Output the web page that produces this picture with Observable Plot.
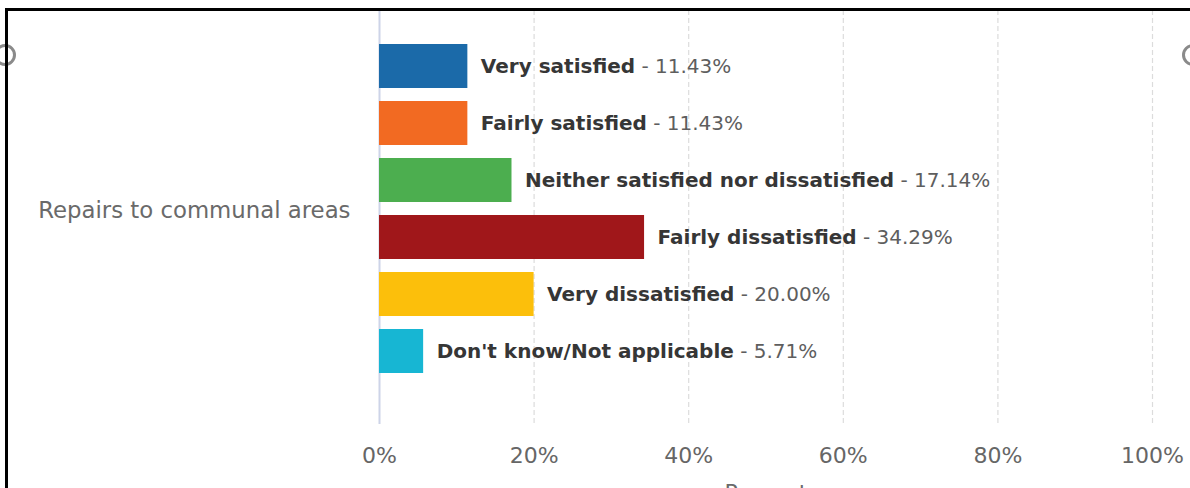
<!DOCTYPE html>
<html>
<head>
<meta charset="utf-8">
<script src="https://cdn.jsdelivr.net/npm/d3@7"></script>
<script src="https://cdn.jsdelivr.net/npm/@observablehq/plot@0.6"></script>
<style>
  html, body { margin: 0; padding: 0; background: #fff; }
  #wrap { position: relative; width: 1190px; height: 488px; overflow: hidden; background: #fff; }
  #chart { position: absolute; left: 0; top: 0; }
  .ring { position: absolute; width: 16px; height: 16px; border: 3px solid #8a8a8a; border-radius: 50%; }
  .frameTop { position: absolute; left: 5px; top: 8px; width: 1190px; height: 3px; background: #000; }
  .frameLeft { position: absolute; left: 5px; top: 8px; width: 3px; height: 480px; background: #000; }
</style>
</head>
<body>
<div id="wrap">
  <div id="chart"></div>
  <div class="ring" style="left:-6px; top:44px;"></div>
  <div class="ring" style="left:1182px; top:44px;"></div>
  <div class="frameTop"></div>
  <div class="frameLeft"></div>
</div>
<script>
const categories = [
  "Very satisfied",
  "Fairly satisfied",
  "Neither satisfied nor dissatisfied",
  "Fairly dissatisfied",
  "Very dissatisfied",
  "Don't know/Not applicable"
];
const values = [11.43, 11.43, 17.14, 34.29, 20.00, 5.71];
const colors = ["#1b6aa9", "#f26a22", "#4cae4f", "#a0171a", "#fcbf0b", "#17b6d3"];
const xTicks = [0, 20, 40, 60, 80, 100];
const groupLabel = "Repairs to communal areas";
const axisTitle = "Percent";

const data = categories.map((c, i) => ({category: c, value: values[i]}));

const chart = Plot.plot({
  width: 1190,
  height: 488,
  marginLeft: 379,
  marginRight: 38,
  marginTop: 10,
  marginBottom: 64,
  style: {fontFamily: "'DejaVu Sans', sans-serif", fontSize: "22px", color: "#666", background: "transparent", overflow: "visible"},
  x: {domain: [0, 100], ticks: xTicks, tickFormat: d => d + "%", tickSize: 0, tickPadding: 23, label: null},
  y: {domain: categories, axis: null, paddingInner: 0.22, paddingOuter: 0.7225, align: 0.40},
  color: {domain: categories, range: colors},
  marks: [
    Plot.ruleX(xTicks.slice(1), {stroke: "#dcdcdc", strokeWidth: 1.2, strokeDasharray: "5,3"}),
    Plot.ruleX([0], {stroke: "#cdd4e8", strokeWidth: 2}),
    Plot.barX(data, {x: "value", y: "category", fill: "category"}),
    Plot.text(data, {x: "value", y: "category", text: "category", textAnchor: "start", dx: 13, fontWeight: "bold", fill: "#363636", fontSize: 20}),
    Plot.text([groupLabel], {frameAnchor: "left", dx: -29, dy: -7, textAnchor: "end", fill: "#6a6a6a", fontSize: 22.8}),
    Plot.text([axisTitle], {frameAnchor: "bottom", dy: 60, lineAnchor: "top", fill: "#6a6a6a", fontSize: 22})
  ]
});

// add the normal-weight value part after each bold category label
const textGroups = chart.querySelectorAll('g[aria-label="text"]');
const labelTexts = textGroups[0].querySelectorAll("text");
labelTexts.forEach((t, i) => {
  const ts = document.createElementNS("http://www.w3.org/2000/svg", "tspan");
  ts.setAttribute("font-weight", "normal");
  ts.setAttribute("fill", "#5e5e5e");
  ts.textContent = " - " + values[i].toFixed(2) + "%";
  t.appendChild(ts);
});

document.getElementById("chart").appendChild(chart);
</script>
</body>
</html>
